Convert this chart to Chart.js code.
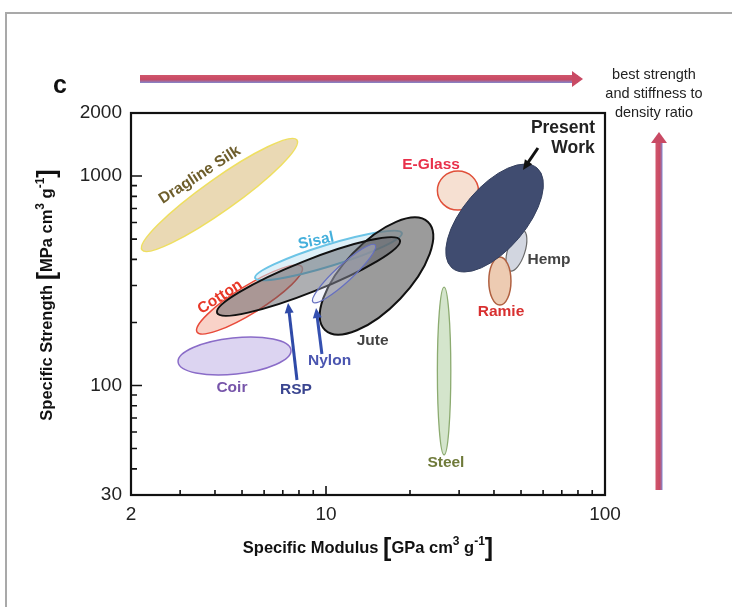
<!DOCTYPE html>
<html><head><meta charset="utf-8">
<script src="https://cdn.jsdelivr.net/npm/chart.js@4/dist/chart.umd.min.js"></script>
<style>
html,body{margin:0;padding:0;background:#fff;}
#wrap{position:relative;width:732px;height:607px;overflow:hidden;background:#fff;}
#frame{position:absolute;left:5px;top:12px;width:800px;height:700px;border-left:2px solid #a9a9a9;border-top:2px solid #a9a9a9;}
canvas{position:absolute;left:0;top:0;}
</style></head><body>
<div id="wrap"><div id="frame"></div><canvas id="c" width="732" height="607"></canvas></div>
<script>
// ---- data (specific modulus [GPa cm3/g], specific strength [MPa cm3/g]) ----
// each material region: ends of its long axis, plus relative spread across it
const materials   = ['Dragline Silk','Coir','Cotton','Sisal','Jute','RSP','Nylon','Steel','E-Glass','Hemp','Ramie','Present Work'];
const modulusFrom  = [2.19, 2.95, 3.45, 5.57, 9.92, 4.07, 8.98, 26.5, 29.7, 45.6, 42.0, 28.3];
const strengthFrom = [444, 129.5, 180, 326, 184, 222, 250, 295, 1057, 352, 411, 364];
const modulusTo    = [7.87, 7.49, 8.20, 18.7, 23.2, 18.4, 15.0, 26.5, 29.7, 50.8, 42.0, 57.1];
const strengthTo   = [1486, 147.7, 368, 535, 603, 495, 469, 46.6, 688, 552, 242, 1092];
const spread       = [0.17, 0.32, 0.22, 0.14, 0.44, 0.16, 0.20, 0.08, 1.05, 0.40, 0.46, 0.48];

// label anchors (data coordinates)
const labelText = ['Dragline Silk','Coir','Cotton','Sisal','Jute','RSP','Nylon','Steel','E-Glass','Hemp','Ramie','Present','Work'];
const labelMod  = [3.53, 4.60, 4.17, 9.21, 14.7, 7.80, 10.3, 26.9, 23.8, 63.0, 42.4, 70.7, 76.8];
const labelStr  = [1012, 97.3, 264.5, 489.6, 163.1, 95.2, 130.9, 42.65, 1129, 397, 224, 1696, 1361];

// pointer arrows (data coordinates): from -> to
const arrowName    = ['RSP','Nylon','Present Work'];
const arrowModFrom = [7.87, 9.67, 57.5];
const arrowStrFrom = [106.2, 141.4, 1361];
const arrowModTo   = [7.31, 9.21, 50.8];
const arrowStrTo   = [247.7, 234.4, 1069];

// axis ticks
const xTickLabels = [2, 10, 100];
const yTickLabels = [30, 100, 1000, 2000];
const xMajorInner = [10];
const yMajorInner = [100, 1000];
const xMinorTicks = [3,4,5,6,7,8,9,20,30,40,50,60,70,80,90];
const yMinorTicks = [40,50,60,70,80,90,200,300,400,500,600,700,800,900];

// ---- styles ----
const FONT = '"Liberation Sans", Arial, Helvetica, sans-serif';
const regionStyle = {
  'Dragline Silk': {fill:'rgba(222,196,140,0.65)', stroke:'rgba(238,222,90,0.95)', lw:1.5},
  'Coir':          {fill:'rgba(206,196,236,0.72)', stroke:'#8a6cc8', lw:1.5},
  'Cotton':        {fill:'rgba(244,165,145,0.50)', stroke:'#e84a3a', lw:1.5},
  'Sisal':         {fill:'rgba(195,228,243,0.55)', stroke:'#6cc4e6', lw:2},
  'Jute':          {fill:'rgba(112,112,112,0.70)', stroke:'#111', lw:2},
  'RSP':           {fill:'rgba(85,88,95,0.48)', stroke:'#111', lw:2},
  'Nylon':         {fill:'rgba(215,220,245,0.30)', stroke:'#6670c0', lw:1.2},
  'Steel':         {fill:'rgba(205,225,195,0.85)', stroke:'#8cab70', lw:1.3},
  'E-Glass':       {fill:'rgba(246,222,208,0.95)', stroke:'#e0503a', lw:1.5},
  'Hemp':          {fill:'rgba(208,212,222,0.95)', stroke:'#6a6a6a', lw:1.2},
  'Ramie':         {fill:'rgba(236,200,174,0.95)', stroke:'#b06040', lw:1.5},
  'Present Work':  {fill:'#404c70', stroke:'#35405e', lw:1}
};
const labelStyle = {
  'Dragline Silk': {color:'#6e5e2c', rot:-33, size:15.5},
  'Coir':          {color:'#7755aa', rot:0, size:15.5},
  'Cotton':        {color:'#e83828', rot:-33, size:15.5},
  'Sisal':         {color:'#45b0dc', rot:-12, size:15.5},
  'Jute':          {color:'#444', rot:0, size:15.5},
  'RSP':           {color:'#3a4590', rot:0, size:15.5},
  'Nylon':         {color:'#4a55b0', rot:0, size:15.5},
  'Steel':         {color:'#6f7a3a', rot:0, size:15.5},
  'E-Glass':       {color:'#e8304a', rot:0, size:15.5},
  'Hemp':          {color:'#444', rot:0, size:15.5},
  'Ramie':         {color:'#d83030', rot:0, size:15.5},
  'Present':       {color:'#222', rot:0, size:17.5},
  'Work':          {color:'#222', rot:0, size:17.5}
};
const arrowColor = {'RSP':'#2f4aa8','Nylon':'#3550b0','Present Work':'#111'};

function drawArrow(ctx, x1, y1, x2, y2, color, lw, head){
  const a = Math.atan2(y2-y1, x2-x1);
  ctx.save();
  ctx.strokeStyle = color; ctx.fillStyle = color; ctx.lineWidth = lw;
  ctx.beginPath(); ctx.moveTo(x1,y1);
  ctx.lineTo(x2 - Math.cos(a)*head*0.8, y2 - Math.sin(a)*head*0.8); ctx.stroke();
  ctx.beginPath(); ctx.moveTo(x2,y2);
  ctx.lineTo(x2 - head*Math.cos(a) + head*0.45*Math.sin(a), y2 - head*Math.sin(a) - head*0.45*Math.cos(a));
  ctx.lineTo(x2 - head*Math.cos(a) - head*0.45*Math.sin(a), y2 - head*Math.sin(a) + head*0.45*Math.cos(a));
  ctx.closePath(); ctx.fill();
  ctx.restore();
}

function richText(ctx, segs, x, y, rot){
  ctx.save(); ctx.translate(x,y); ctx.rotate(rot);
  let total = 0;
  segs.forEach(s=>{ ctx.font = 'bold '+s.size+'px '+FONT; s.w = ctx.measureText(s.t).width; total += s.w; });
  let cx = -total/2;
  ctx.textAlign='left'; ctx.textBaseline='alphabetic'; ctx.fillStyle='#111';
  segs.forEach(s=>{ ctx.font = 'bold '+s.size+'px '+FONT; ctx.fillText(s.t, cx, s.dy); cx += s.w; });
  ctx.restore();
}

const ashby = {
  id:'ashby',
  beforeDatasetsDraw(chart){
    const ctx = chart.ctx, xs = chart.scales.x, ys = chart.scales.y;
    materials.forEach((m,i)=>{
      const x1 = xs.getPixelForValue(modulusFrom[i]), y1 = ys.getPixelForValue(strengthFrom[i]);
      const x2 = xs.getPixelForValue(modulusTo[i]),   y2 = ys.getPixelForValue(strengthTo[i]);
      const cx = (x1+x2)/2, cy = (y1+y2)/2;
      const a = Math.hypot(x2-x1, y2-y1)/2, b = a*spread[i];
      const ang = Math.atan2(y2-y1, x2-x1);
      const st = regionStyle[m];
      ctx.save();
      ctx.beginPath(); ctx.ellipse(cx, cy, a, b, ang, 0, Math.PI*2);
      ctx.fillStyle = st.fill; ctx.fill();
      ctx.lineWidth = st.lw; ctx.strokeStyle = st.stroke; ctx.stroke();
      ctx.restore();
    });
  },
  afterDraw(chart){
    const ctx = chart.ctx, xs = chart.scales.x, ys = chart.scales.y, ca = chart.chartArea;
    // labels
    labelText.forEach((t,i)=>{
      const st = labelStyle[t];
      const px = xs.getPixelForValue(labelMod[i]), py = ys.getPixelForValue(labelStr[i]);
      ctx.save(); ctx.translate(px,py); ctx.rotate(st.rot*Math.PI/180);
      ctx.font = 'bold '+st.size+'px '+FONT; ctx.fillStyle = st.color;
      ctx.textAlign='center'; ctx.textBaseline='middle';
      ctx.fillText(t,0,0); ctx.restore();
    });
    // pointer arrows
    arrowName.forEach((n,i)=>{
      drawArrow(ctx, xs.getPixelForValue(arrowModFrom[i]), ys.getPixelForValue(arrowStrFrom[i]),
        xs.getPixelForValue(arrowModTo[i]), ys.getPixelForValue(arrowStrTo[i]), arrowColor[n], 3, 10);
    });
    // plot frame
    ctx.save();
    ctx.strokeStyle='#111'; ctx.lineWidth=2.2;
    ctx.strokeRect(ca.left, ca.top, ca.right-ca.left, ca.bottom-ca.top);
    // inner ticks
    ctx.lineWidth=1.6;
    ctx.beginPath();
    xMinorTicks.forEach(v=>{ const p=xs.getPixelForValue(v); ctx.moveTo(p,ca.bottom); ctx.lineTo(p,ca.bottom-5); });
    xMajorInner.forEach(v=>{ const p=xs.getPixelForValue(v); ctx.moveTo(p,ca.bottom); ctx.lineTo(p,ca.bottom-9); });
    yMinorTicks.forEach(v=>{ const p=ys.getPixelForValue(v); ctx.moveTo(ca.left,p); ctx.lineTo(ca.left+6,p); });
    yMajorInner.forEach(v=>{ const p=ys.getPixelForValue(v); ctx.moveTo(ca.left,p); ctx.lineTo(ca.left+11,p); });
    ctx.stroke();
    ctx.restore();
    // axis titles
    richText(ctx, [
      {t:'Specific Modulus ', size:16.5, dy:0},
      {t:'[', size:25, dy:3},
      {t:'GPa cm', size:16.5, dy:0},
      {t:'3', size:12, dy:-8},
      {t:' g', size:16.5, dy:0},
      {t:'-1', size:12, dy:-8},
      {t:']', size:25, dy:3}
    ], (ca.left+ca.right)/2 + 0, ca.bottom + 58, 0);
    richText(ctx, [
      {t:'Specific Strength ', size:16.5, dy:0},
      {t:'[', size:25, dy:3},
      {t:'MPa cm', size:16.5, dy:0},
      {t:'3', size:12, dy:-8},
      {t:' g', size:16.5, dy:0},
      {t:'-1', size:12, dy:-8},
      {t:']', size:25, dy:3}
    ], ca.left - 79, ca.top + 182, -Math.PI/2);
    // panel letter
    ctx.save();
    ctx.font = 'bold 25px '+FONT; ctx.fillStyle='#111'; ctx.textAlign='center'; ctx.textBaseline='middle';
    ctx.fillText('c', ca.left - 71, ca.top - 27);
    ctx.restore();
    // direction arrows
    ctx.save();
    const hy = ca.top - 34;
    let g = ctx.createLinearGradient(0, hy-4, 0, hy+4);
    g.addColorStop(0,'#d0566c'); g.addColorStop(0.55,'#c94a64'); g.addColorStop(1,'#8088cf');
    ctx.fillStyle = g; ctx.fillRect(ca.left+9, hy-4, 438, 8);
    ctx.fillStyle = '#c94a64';
    ctx.beginPath(); ctx.moveTo(ca.right-22, hy); ctx.lineTo(ca.right-33, hy-8); ctx.lineTo(ca.right-33, hy+8); ctx.closePath(); ctx.fill();
    const vx = ca.right + 54;
    g = ctx.createLinearGradient(vx-3.5, 0, vx+3.5, 0);
    g.addColorStop(0,'#d0566c'); g.addColorStop(0.6,'#c94a64'); g.addColorStop(1,'#8088cf');
    ctx.fillStyle = g; ctx.fillRect(vx-3.5, ca.top+29, 7, ca.bottom-5-(ca.top+29));
    ctx.fillStyle = '#c94a64';
    ctx.beginPath(); ctx.moveTo(vx, ca.top+19); ctx.lineTo(vx-8, ca.top+30); ctx.lineTo(vx+8, ca.top+30); ctx.closePath(); ctx.fill();
    // note text
    ctx.font = '14.5px '+FONT; ctx.fillStyle='#222'; ctx.textAlign='center'; ctx.textBaseline='middle';
    ctx.fillText('best strength', ca.right+49, ca.top-38);
    ctx.fillText('and stiffness to', ca.right+49, ca.top-19);
    ctx.fillText('density ratio', ca.right+49, ca.top);
    ctx.restore();
  }
};

new Chart(document.getElementById('c').getContext('2d'), {
  type:'scatter',
  data:{datasets:[{data:[], pointRadius:0}]},
  options:{
    responsive:false, animation:false, devicePixelRatio:1,
    layout:{padding:{left:0, top:113, right:127, bottom:0}},
    plugins:{legend:{display:false}, tooltip:{enabled:false}},
    scales:{
      x:{
        type:'logarithmic', min:2, max:100,
        afterBuildTicks:(s)=>{ s.ticks = xTickLabels.map(v=>({value:v})); },
        afterFit:(s)=>{ s.height = 112; },
        grid:{display:false, drawTicks:false}, border:{display:false},
        ticks:{padding:8, color:'#222', font:{size:19, family:FONT}, maxRotation:0, autoSkip:false,
               callback:(v)=> xTickLabels.includes(v) ? String(v) : ''}
      },
      y:{
        type:'logarithmic', min:30, max:2000,
        afterBuildTicks:(s)=>{ s.ticks = yTickLabels.map(v=>({value:v})); },
        afterFit:(s)=>{ s.width = 131; },
        grid:{display:false, drawTicks:false}, border:{display:false},
        ticks:{padding:9, color:'#222', font:{size:19, family:FONT}, autoSkip:false,
               callback:(v)=> yTickLabels.includes(v) ? String(v) : ''}
      }
    }
  },
  plugins:[ashby]
});
</script>
</body></html>
